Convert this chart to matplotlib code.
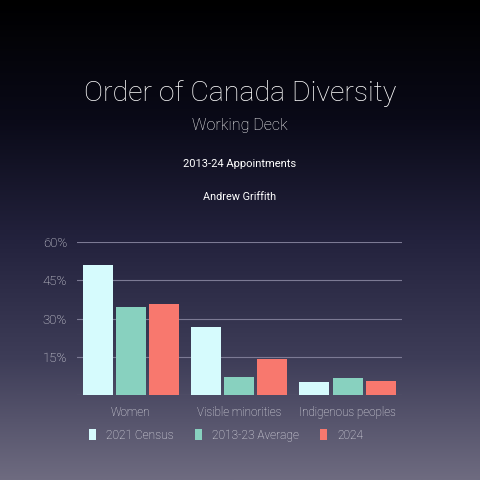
import numpy as np
import matplotlib
matplotlib.use('Agg')
import matplotlib.pyplot as plt
from matplotlib.colors import LinearSegmentedColormap

plt.rcParams['font.family'] = ['Roboto', 'DejaVu Sans']
plt.rcParams['font.weight'] = 'light'

categories = ['Women', 'Visible minorities', 'Indigenous peoples']
series = ['2021 Census', '2013-23 Average', '2024']
census = [51.0, 26.6, 5.0]
average = [34.5, 7.2, 6.5]
latest = [35.8, 14.1, 5.5]
colors = ['#d6fbfd', '#88d1bf', '#f8786e']
yticks = [15, 30, 45, 60]
ytick_labels = ['15%', '30%', '45%', '60%']

fig = plt.figure(figsize=(4.8, 4.8), dpi=100)

# background gradient
bg = fig.add_axes([0, 0, 1, 1])
grad = np.linspace(0, 1, 256).reshape(-1, 1)
cmap = LinearSegmentedColormap.from_list('bg', ['#000000', '#0a0a18', '#23223d', '#3e3d58', '#6e6b80'], N=256)
bg.imshow(grad, aspect='auto', cmap=cmap, extent=[0, 1, 0, 1], origin='upper')
bg.set_axis_off()

fig.text(0.5, 0.806, 'Order of Canada Diversity', ha='center', va='center', color='white', fontsize=20.5)
fig.text(0.5, 0.738, 'Working Deck', ha='center', va='center', color='white', fontsize=11.5)
fig.text(0.5, 0.658, '2013-24 Appointments', ha='center', va='center', color='white',
         fontsize=8, fontweight='normal')
fig.text(0.5, 0.59, 'Andrew Griffith', ha='center', va='center', color='white',
         fontsize=7.8, fontweight='normal')

ax = fig.add_axes([76.7 / 480, 1 - 395 / 480, 325 / 480, 152.7 / 480])
ax.patch.set_alpha(0)
x = np.arange(len(categories))
w = 0.277
step = 0.305
for i, (vals, name) in enumerate(zip([census, average, latest], series)):
    ax.bar(x + (i - 1) * step, vals, width=w, color=colors[i], label=name, zorder=3)

ax.set_xlim(-0.5, 2.5)
ax.set_ylim(0, 60)
ax.set_yticks(yticks)
ax.set_yticklabels(ytick_labels)
ax.yaxis.grid(True, color='#7c7a94', linewidth=0.8, zorder=0)
ax.axhline(0, color='#7c7a94', linewidth=0.8, zorder=2)
ax.set_xticks(x)
ax.set_xticklabels(categories)
for s in ax.spines.values():
    s.set_visible(False)
ax.tick_params(axis='both', length=0, colors='#e8e8ee')
ax.tick_params(axis='y', pad=7, labelsize=9.5)
ax.tick_params(axis='x', pad=8, labelsize=8.4)

leg = ax.legend(loc='upper center', bbox_to_anchor=(0.46, -0.15), ncol=3, frameon=False,
                fontsize=8.6, handlelength=0.55, handleheight=0.95, handletextpad=0.85, columnspacing=1.8)
for t in leg.get_texts():
    t.set_color('#e8e8ee')

fig.savefig('out.png', dpi=100)
